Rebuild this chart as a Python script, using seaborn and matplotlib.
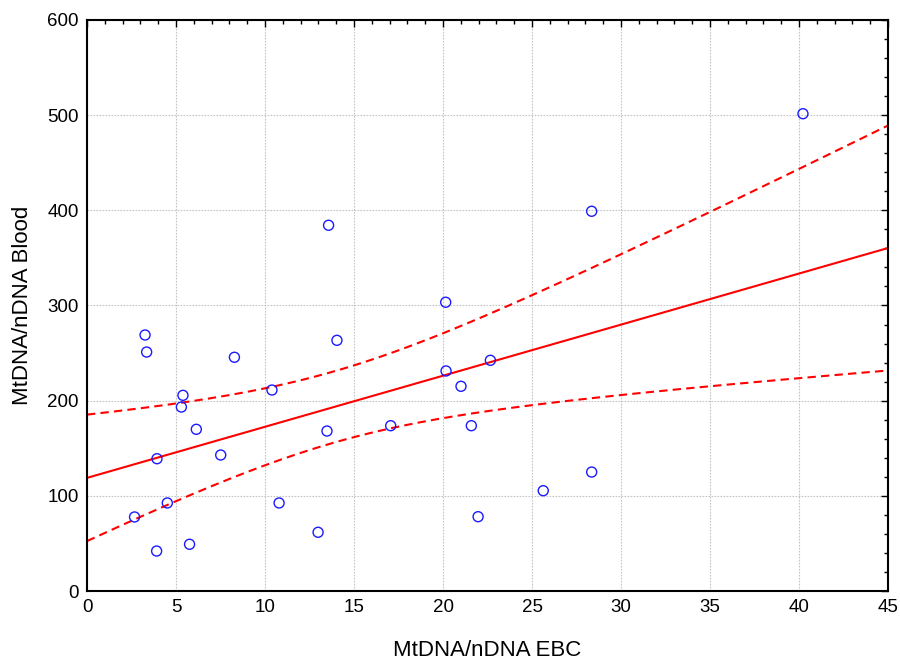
import numpy as np
import pandas as pd
import matplotlib
matplotlib.use("Agg")
import matplotlib.pyplot as plt
import seaborn as sns
from matplotlib.ticker import MultipleLocator

# values
ebc = [2.67, 3.26, 3.35, 3.93, 3.91, 4.51, 5.39, 5.30, 5.76, 6.14,
       7.51, 8.28, 10.39, 10.79, 12.98, 13.57, 13.48, 14.04, 17.06, 20.15,
       20.17, 21.01, 21.59, 21.97, 22.66, 25.63, 28.35, 28.35, 40.22]
blood = [77.8, 269.0, 251.1, 139.0, 42.0, 92.5, 205.6, 193.3, 49.1, 169.9,
         142.9, 245.6, 211.2, 92.5, 61.7, 384.3, 168.1, 263.4, 173.7, 303.4,
         231.2, 215.1, 173.7, 78.1, 242.4, 105.4, 125.0, 399.0, 501.5]

df = pd.DataFrame({"ebc": ebc, "blood": blood})

sns.set_style("white", {"text.color": "black", "axes.labelcolor": "black",
                        "xtick.color": "black", "ytick.color": "black"})
plt.rcParams["font.family"] = ["Liberation Sans", "DejaVu Sans"]

fig = plt.figure(figsize=(9, 6.66), dpi=100)
ax = fig.add_axes([0.0967, 0.1126, 0.89, 0.8574])

# linear fit + 95% confidence band for the mean
x = df["ebc"].values
y = df["blood"].values
n = len(x)
b, a = np.polyfit(x, y, 1)
resid = y - (a + b * x)
s = np.sqrt(np.sum(resid ** 2) / (n - 2))
t = 2.052  # t(0.975, 27)
xs = np.linspace(0, 45, 200)
se = s * np.sqrt(1 / n + (xs - x.mean()) ** 2 / np.sum((x - x.mean()) ** 2))
fit = a + b * xs
band = pd.DataFrame({"x": xs, "fit": fit, "lo": fit - t * se, "hi": fit + t * se})

sns.lineplot(data=band, x="x", y="fit", color="red", lw=1.5, ax=ax)
sns.lineplot(data=band, x="x", y="lo", color="red", lw=1.5, ax=ax, dashes=False,
             linestyle=(0, (4, 2.5)))
sns.lineplot(data=band, x="x", y="hi", color="red", lw=1.5, ax=ax, dashes=False,
             linestyle=(0, (4, 2.5)))
sns.scatterplot(data=df, x="ebc", y="blood", marker="o", s=52,
                facecolor="none", edgecolor="#1a1aff", linewidth=1.0, ax=ax, zorder=5)

ax.set_xlim(0, 45)
ax.set_ylim(0, 600)
ax.xaxis.set_major_locator(MultipleLocator(5))
ax.xaxis.set_minor_locator(MultipleLocator(1))
ax.yaxis.set_major_locator(MultipleLocator(100))
ax.yaxis.set_minor_locator(MultipleLocator(20))
ax.tick_params(which="both", direction="in", top=True, right=True, color="black",
               labelcolor="black")
ax.tick_params(which="major", length=5, width=1, labelsize=13.5, pad=6)
ax.tick_params(which="minor", length=3, width=1)
ax.grid(True, which="major", color="#c4c4c4", linestyle=(0, (1.5, 1.2)), linewidth=0.8)
for sp in ax.spines.values():
    sp.set_color("black")
    sp.set_linewidth(1.5)

ax.set_xlabel("MtDNA/nDNA EBC", fontsize=16, labelpad=17, color="black")
ax.set_ylabel("MtDNA/nDNA Blood", fontsize=16, labelpad=10, color="black")

fig.savefig("out.png", dpi=100)
